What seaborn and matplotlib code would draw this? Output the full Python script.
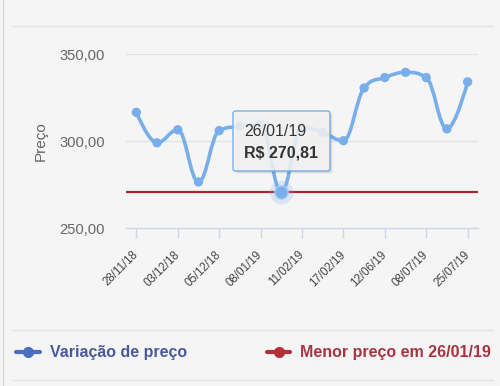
import numpy as np
import pandas as pd
import matplotlib
matplotlib.use("Agg")
import matplotlib.pyplot as plt
import seaborn as sns
from matplotlib.path import Path
from matplotlib.patches import PathPatch, FancyBboxPatch
from matplotlib.lines import Line2D

# ---------------- data ----------------
prices = [316.5, 299.0, 306.5, 276.5, 306.0, 308.5, 309.5, 270.81, 308.0,
          305.0, 300.2, 330.5, 336.5, 339.5, 336.5, 307.0, 334.0]
tick_labels = ["28/11/18", "03/12/18", "05/12/18", "08/01/19", "11/02/19",
               "17/02/19", "12/06/19", "08/07/19", "25/07/19"]
min_price = 270.81
min_date = "26/01/19"
min_index = 7
y_ticks = [250, 300, 350]
series_name = "Variação de preço"
min_name = "Menor preço em 26/01/19"

df = pd.DataFrame({"idx": np.arange(len(prices)), "price": prices})

BG = "#f5f5f5"
BLUE = "#78aeea"
RED = "#a8262f"

sns.set_theme(style="white")
plt.rcParams["font.family"] = ["Liberation Sans", "DejaVu Sans"]

fig = plt.figure(figsize=(5.0, 3.86), dpi=100, facecolor=BG)
ax = fig.add_axes([0.252, 0.409, 0.704, 0.451], facecolor=BG)


def spline_path(xs, ys, smoothing=1.5):
    n = len(xs)
    lc = [None] * n
    rc = [None] * n
    den = smoothing + 1
    for i in range(1, n - 1):
        x, y = xs[i], ys[i]
        lx, ly = xs[i - 1], ys[i - 1]
        nx, ny = xs[i + 1], ys[i + 1]
        lcx = (smoothing * x + lx) / den
        lcy = (smoothing * y + ly) / den
        rcx = (smoothing * x + nx) / den
        rcy = (smoothing * y + ny) / den
        if rcx != lcx:
            corr = ((rcy - lcy) * (rcx - x)) / (rcx - lcx) + y - rcy
            lcy += corr
            rcy += corr
        if lcy > ly and lcy > y:
            lcy = max(ly, y)
            rcy = 2 * y - lcy
        elif lcy < ly and lcy < y:
            lcy = min(ly, y)
            rcy = 2 * y - lcy
        if rcy > ny and rcy > y:
            rcy = max(ny, y)
            lcy = 2 * y - rcy
        elif rcy < ny and rcy < y:
            rcy = min(ny, y)
            lcy = 2 * y - rcy
        lc[i] = (lcx, lcy)
        rc[i] = (rcx, rcy)
    verts = [(xs[0], ys[0])]
    codes = [Path.MOVETO]
    for i in range(1, n):
        c1 = rc[i - 1] if rc[i - 1] is not None else (xs[i - 1], ys[i - 1])
        c2 = lc[i] if lc[i] is not None else (xs[i], ys[i])
        verts += [c1, c2, (xs[i], ys[i])]
        codes += [Path.CURVE4] * 3
    return Path(verts, codes)


# grid lines
for yv in y_ticks[1:]:
    ax.axhline(yv, color="#e3e3e3", lw=1.0, zorder=0)

# minimum price line
ax.axhline(min_price, color=RED, lw=1.6, zorder=1)

# spline series
path = spline_path(list(df["idx"].astype(float)), list(df["price"]))
ax.add_patch(PathPatch(path, fill=False, edgecolor=BLUE, lw=2.6,
                       capstyle="round", joinstyle="round", zorder=2))
sns.scatterplot(data=df, x="idx", y="price", ax=ax, color=BLUE, s=45,
                edgecolor="none", zorder=3, legend=False)

# hover highlight
ax.plot([min_index], [min_price], "o", ms=17, color=BLUE, alpha=0.22,
        mec="none", zorder=3)
ax.plot([min_index], [min_price], "o", ms=9.5, color=BLUE, mec="#a9ccf2",
        mew=1.0, zorder=4)

ax.set_xlim(-0.5, len(prices) - 0.5)
ax.set_ylim(250, 350)
ax.set_yticks(y_ticks)
ax.set_yticklabels([f"{v:.2f}".replace(".", ",") for v in y_ticks])
ax.set_xticks(np.arange(0, len(prices), 2))
ax.set_xticklabels(tick_labels, rotation=45, ha="right",
                   rotation_mode="anchor", va="center")
ax.set_xlabel("")
ax.set_ylabel("Preço", fontsize=11, color="#666666")
ax.yaxis.set_label_coords(-0.222, 0.5)

for s in ["top", "right", "left"]:
    ax.spines[s].set_visible(False)
ax.spines["bottom"].set_color("#ccd6eb")
ax.spines["bottom"].set_linewidth(1.0)
ax.tick_params(axis="y", length=0, pad=15, labelsize=10.6, labelcolor="#666666")
ax.tick_params(axis="x", length=7.5, width=1.0, color="#ccd6eb", pad=10.5,
               labelsize=8.3, labelcolor="#444444", direction="out")
ax.xaxis.set_ticks_position("bottom")

# tooltip
W, H = 500.0, 386.0
def fx(px):
    return px / W
def fy(py):
    return 1 - py / H

for k, a in [(3, 0.04), (2, 0.06), (1, 0.08)]:
    fig.patches.append(FancyBboxPatch(
        (fx(233 + k), fy(171 + k)), fx(97), 60 / H,
        boxstyle="round,pad=0,rounding_size=0.006", transform=fig.transFigure,
        facecolor="#000000", edgecolor="none", alpha=a, zorder=5))
fig.patches.append(FancyBboxPatch(
    (fx(233), fy(171)), fx(97), 60 / H,
    boxstyle="round,pad=0,rounding_size=0.006", transform=fig.transFigure,
    facecolor=(0.97, 0.97, 0.97, 0.85), edgecolor=BLUE, lw=1.0, zorder=6))
fig.text(fx(244), fy(136.5), min_date, fontsize=11.5, color="#333333",
         va="baseline", ha="left", zorder=7)
fig.text(fx(244), fy(157), "R$ " + f"{min_price:.2f}".replace(".", ","),
         fontsize=11.5, color="#333333", fontweight="bold",
         va="baseline", ha="left", zorder=7)

# separators and frame line
for yy in [26, 330, 380]:
    fig.add_artist(Line2D([fx(12), fx(493)], [fy(yy), fy(yy)],
                          transform=fig.transFigure, color="#e4e4e4", lw=1.0))
fig.add_artist(Line2D([fx(3), fx(3)], [0, 1], transform=fig.transFigure,
                      color="#d8d8d8", lw=1.0))

# legend
handles = [Line2D([], [], color="#4a6fbf", lw=3, marker="o", ms=7),
           Line2D([], [], color="#b3303b", lw=3, marker="o", ms=7)]
fig.legend(handles, [series_name, min_name], loc="center left",
           bbox_to_anchor=(fx(16), fy(353)), ncol=2, frameon=False,
           borderaxespad=0, borderpad=0, handlelength=1.5,
           handletextpad=0.6, columnspacing=5.0,
           labelcolor=["#4a5a9c", "#a8343f"],
           prop={"weight": "bold", "size": 11.5})

fig.savefig("out.png", dpi=100, facecolor=BG)
